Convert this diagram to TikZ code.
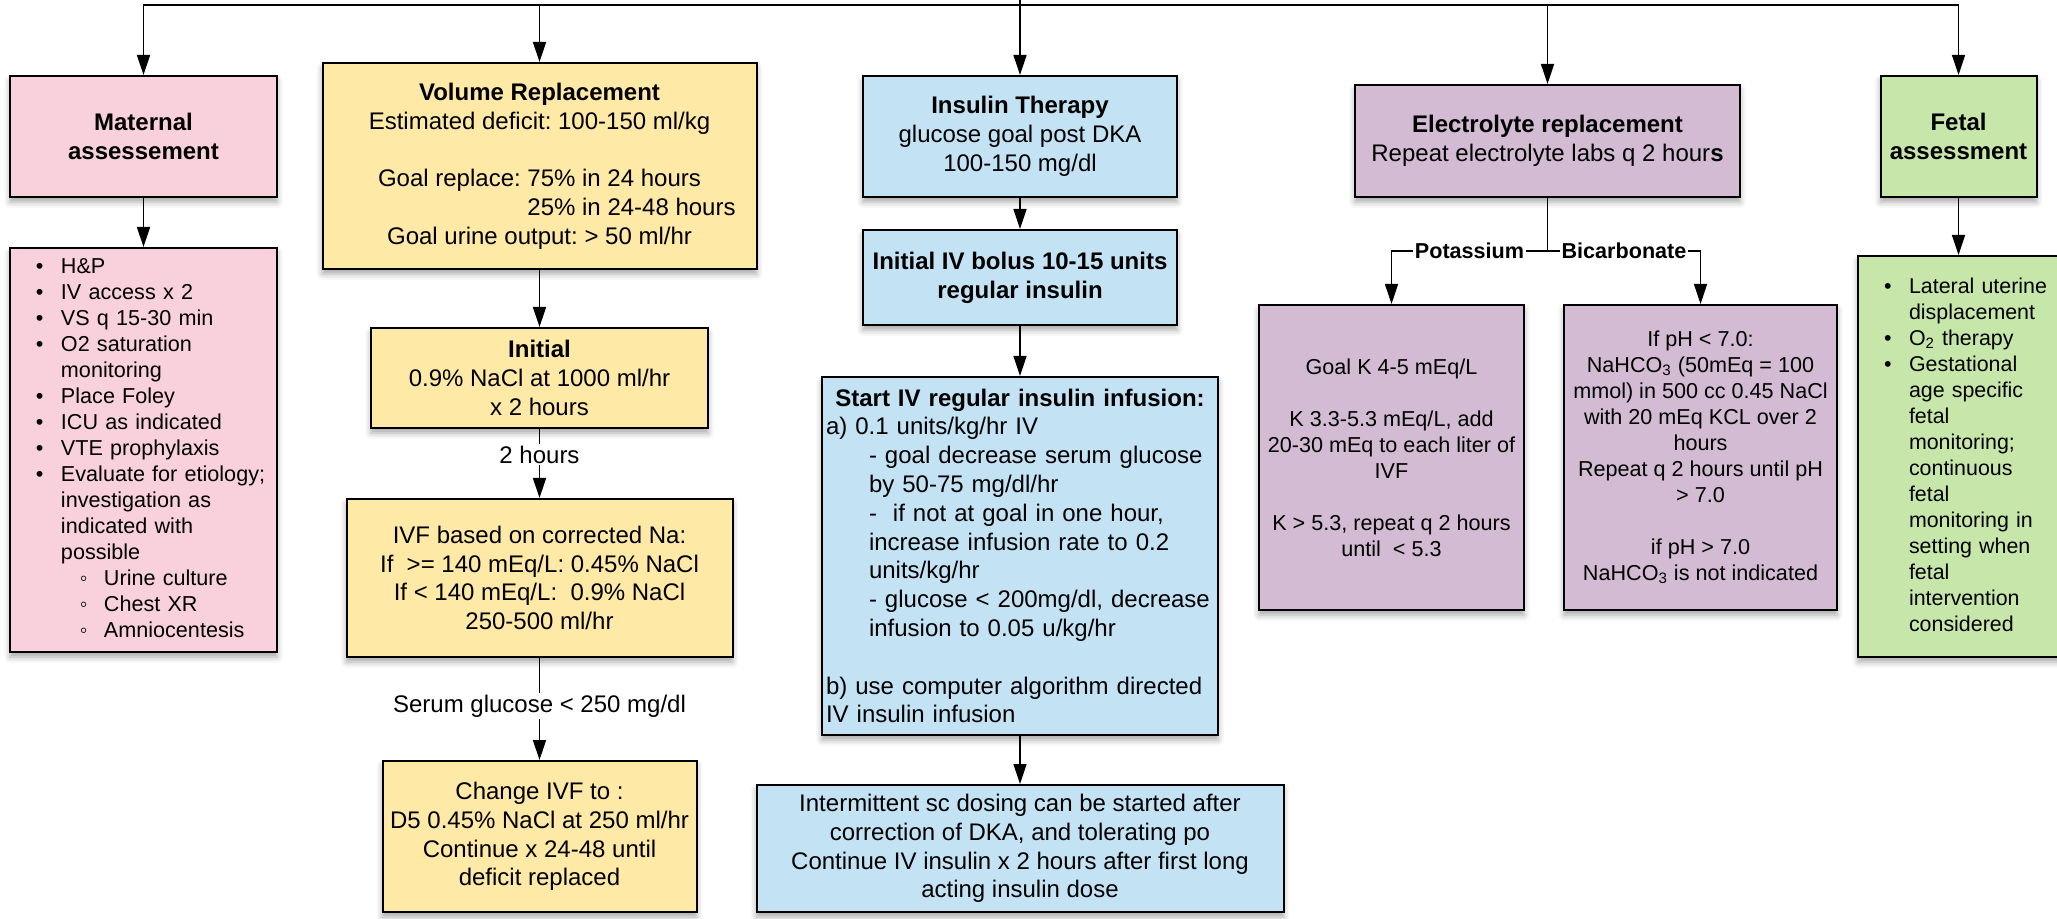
\documentclass[tikz,border=0pt]{standalone}
\usepackage{fontspec}
\setmainfont{Liberation Sans}
\usepackage{calc}
\usetikzlibrary{arrows.meta,shadows.blur}
\definecolor{nodepink}{HTML}{F9D1DC}
\definecolor{nodeyellow}{HTML}{FEE9A6}
\definecolor{nodeblue}{HTML}{C3E3F5}
\definecolor{nodepurple}{HTML}{D3BBD3}
\definecolor{nodegreen}{HTML}{C7E6A9}
\setlength{\parindent}{0pt}
\frenchspacing
\newcommand{\itm}[1]{\par\noindent\hangindent=25.5pt\hangafter=1\hspace*{13pt}\makebox[12.5pt][l]{\textbullet}#1}
\newcommand{\subitm}[1]{\par\noindent\hangindent=47pt\hangafter=1\hspace*{35pt}\makebox[12pt][l]{◦}#1}
\newcommand{\ind}{\hspace*{21.5pt}}
\newcommand{\lift}{\rule[-7pt]{0pt}{7pt}}
\tikzset{
  box/.style={draw, line width=1pt, inner sep=2pt, align=center,
    font=\fontsize{12}{14.4}\selectfont,
    blur shadow={shadow xshift=0pt, shadow yshift=-2.5pt, shadow blur radius=3pt, shadow opacity=35}},
  smallbox/.style={box, font=\fontsize{10.8}{13}\selectfont},
  listbox/.style={box, inner xsep=0pt, inner ysep=0pt, align=left},
  arr/.style={line width=0.7pt, -{Triangle[length=10pt,width=6.5pt]}},
  lbl/.style={fill=white, inner sep=1pt, font=\fontsize{12}{14.4}\selectfont},
  blbl/.style={lbl, font=\fontsize{10.8}{13}\selectfont\bfseries}
}

\begin{document}
\begin{tikzpicture}[x=0.5pt,y=-0.5pt]
\useasboundingbox (0,0) rectangle (2057,919);

\node[box, fill=nodepink, minimum width=133.5pt, minimum height=60.5pt] (mat) at (143.5,136.5) {\textbf{Maternal}\\\textbf{assessement}};
\node[listbox, fill=nodepink, text width=133.5pt, minimum height=201pt, font=\fontsize{10.8}{13}\selectfont] (matlist) at (143.5,450)
  {\itm{H\&P}\itm{IV access x 2}\itm{VS q 15-30 min}\itm{O2 saturation\newline monitoring}\itm{Place Foley}\itm{ICU as indicated}\itm{VTE prophylaxis}%
   \itm{Evaluate for etiology;\newline investigation as\newline indicated with\newline possible}\subitm{Urine culture}\subitm{Chest XR}\subitm{Amniocentesis\lift}\par};

\node[box, fill=nodeyellow, minimum width=217pt, minimum height=103pt] (vol) at (539.5,166)
  {\textbf{Volume Replacement}\\Estimated deficit: 100-150 ml/kg\\[14.4pt]Goal replace: 75\% in 24 hours\\
   \makebox[\widthof{Goal replace: 75\% in 24 hours}][l]{\phantom{Goal replace: }25\% in 24-48 hours}\\Goal urine output: > 50 ml/hr};
\node[box, fill=nodeyellow, minimum width=168.5pt, minimum height=50pt] (init) at (539.5,378) {\textbf{Initial}\\0.9\% NaCl at 1000 ml/hr\\x 2 hours};
\node[box, fill=nodeyellow, minimum width=193pt, minimum height=79pt] (ivf) at (539.5,578)
  {IVF based on corrected Na:\\If~ >= 140 mEq/L: 0.45\% NaCl\\If < 140 mEq/L:~ 0.9\% NaCl\\250-500 ml/hr};
\node[box, fill=nodeyellow, minimum width=157pt, minimum height=75.5pt] (chg) at (539.5,836.5)
  {Change IVF to :\\D5 0.45\% NaCl at 250 ml/hr\\Continue x 24-48 until\\deficit replaced};

\node[box, fill=nodeblue, minimum width=157pt, minimum height=60.5pt] (ins) at (1020,136.5) {\textbf{Insulin Therapy}\\glucose goal post DKA\\100-150 mg/dl};
\node[box, fill=nodeblue, minimum width=157pt, minimum height=47.5pt] (bolus) at (1020,277.5) {\textbf{Initial IV bolus 10-15 units}\\\textbf{regular insulin}};
\node[box, fill=nodeblue, text width=194pt, align=left, minimum height=179pt] (start) at (1020,556)
  {\makebox[\hsize][c]{\textbf{Start IV regular insulin infusion:}}\\
   a) 0.1 units/kg/hr IV\\
   \ind - goal decrease serum glucose\\
   \ind by 50-75 mg/dl/hr\\
   \ind -~ if not at goal in one hour,\\
   \ind increase infusion rate to 0.2\\
   \ind units/kg/hr\\
   \ind - glucose < 200mg/dl, decrease\\
   \ind infusion to 0.05 u/kg/hr\\[14.4pt]
   b) use computer algorithm directed\\
   IV insulin infusion};
\node[box, fill=nodeblue, minimum width=263.5pt, minimum height=63.5pt] (sc) at (1020,848.5)
  {Intermittent sc dosing can be started after\\correction of DKA, and tolerating po\\Continue IV insulin x 2 hours after first long\\acting insulin dose};

\node[box, fill=nodepurple, minimum width=192.5pt, minimum height=56pt] (elec) at (1547.5,141) {\textbf{Electrolyte replacement}\\Repeat electrolyte labs q 2 hour\textbf{s}};
\node[smallbox, fill=nodepurple, minimum width=132.5pt, minimum height=152.5pt] (pot) at (1391.5,457.5)
  {Goal K 4-5 mEq/L\\[13pt]K 3.3-5.3 mEq/L, add\\20-30 mEq to each liter of\\IVF\\[13pt]K > 5.3, repeat q 2 hours\\until~ < 5.3};
\node[smallbox, fill=nodepurple, minimum width=136.5pt, minimum height=152.5pt] (bic) at (1700.5,457.5)
  {If pH < 7.0:\\NaHCO\textsubscript{3} (50mEq = 100\\mmol) in 500 cc 0.45 NaCl\\with 20 mEq KCL over 2\\hours\\Repeat q 2 hours until pH\\> 7.0\\[13pt]if pH > 7.0\\NaHCO\textsubscript{3} is not indicated};

\node[box, fill=nodegreen, minimum width=78pt, minimum height=60.5pt] (fet) at (1958.5,136.5) {\textbf{Fetal}\\\textbf{assessment}};
\node[listbox, fill=nodegreen, text width=100.5pt, minimum height=200.5pt, font=\fontsize{10.7}{13}\selectfont] (fetlist) at (1958.5,456.5)
  {\itm{Lateral uterine\newline displacement}\itm{O\textsubscript{2} therapy}%
   \itm{Gestational\newline age specific\newline fetal\newline monitoring;\newline continuous\newline fetal\newline monitoring in\newline setting when\newline fetal\newline intervention\newline considered\lift}\par};

\coordinate (top) at (1020,0);
\coordinate (hub) at (1020,5);
\coordinate (split) at (1547.5,251);

\draw[line width=0.7pt] (top) -- (hub);
\draw[arr] (hub) -| (mat);
\draw[arr] (hub) -| (vol);
\draw[arr] (hub) -- (ins);
\draw[arr] (hub) -| (elec);
\draw[arr] (hub) -| (fet);
\draw[arr] (mat) -- (matlist);
\draw[arr] (vol) -- (init);
\draw[arr] (init) -- node[lbl, pos=0.37] {2 hours} (ivf);
\draw[arr] (ivf) -- node[lbl, pos=0.47] {Serum glucose < 250 mg/dl} (chg);
\draw[arr] (ins) -- (bolus);
\draw[arr] (bolus) -- (start);
\draw[arr] (start) -- (sc);
\draw[line width=0.7pt] (elec) -- (split);
\draw[arr] (split) -| node[blbl, pos=0.25] {Potassium} (pot);
\draw[arr] (split) -| node[blbl, pos=0.25] {Bicarbonate} (bic);
\draw[arr] (fet) -- (fetlist);
\end{tikzpicture}
\end{document}
